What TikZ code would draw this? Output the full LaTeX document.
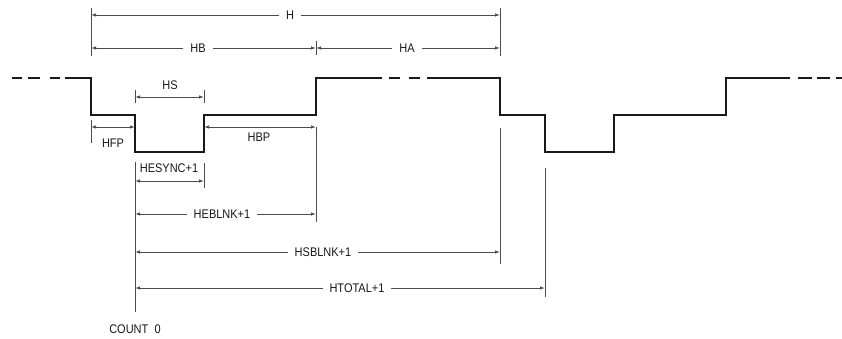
\documentclass[tikz,border=0pt]{standalone}
\usepackage{fontspec}
\setmainfont{Liberation Sans}[FakeStretch=0.88]
\usetikzlibrary{arrows.meta}
\begin{document}
\begin{tikzpicture}[x=1pt,y=-1pt,
  wave/.style={line width=1.7pt,black!90,line join=miter},
  ext/.style={line width=0.9pt,black!70},
  dim/.style={line width=0.8pt,black!70,{Latex[length=5pt,width=3.4pt]}-{Latex[length=5pt,width=3.4pt]}},
  lbl/.style={font=\fontsize{12.5}{13}\selectfont,text=black!90,fill=white,inner xsep=7pt,inner ysep=1pt},
  plain/.style={font=\fontsize{12.5}{13}\selectfont,text=black!90,inner sep=1pt}]
\useasboundingbox (0,0) rectangle (842,339);
% waveform
\draw[wave] (12,78)--(22,78) (28,78)--(40,78) (50,78)--(60,78);
\draw[wave] (65,78)--(91,78)--(91,115)--(135,115)--(135,152)--(204,152)--(204,115)--(316,115)--(316,78)--(382,78);
\draw[wave] (389,78)--(400,78) (409,78)--(420,78);
\draw[wave] (427,78)--(500,78)--(500,115)--(545,115)--(545,152)--(614,152)--(614,115)--(726,115)--(726,78)--(790,78);
\draw[wave] (798,78)--(812,78) (817,78)--(830,78) (836,78)--(842,78);
% coordinates
\coordinate (hL) at (91,15); \coordinate (hR) at (500,15);
\coordinate (hbL) at (91,48); \coordinate (hbR) at (316,48); \coordinate (haR) at (500,48);
\coordinate (hsL) at (135,97); \coordinate (hsR) at (204,97);
\coordinate (fpL) at (91,127); \coordinate (fpR) at (135,127);
\coordinate (bpL) at (204,127); \coordinate (bpR) at (316,127);
\coordinate (esL) at (135,181); \coordinate (esR) at (204,181);
\coordinate (ebL) at (135,214); \coordinate (ebR) at (316,214);
\coordinate (sbL) at (135,252); \coordinate (sbR) at (500,252);
\coordinate (htL) at (135,288); \coordinate (htR) at (545,288);
% extension lines
\draw[ext] (91,8)--(91,56);
\draw[ext] (500,8)--(500,56);
\draw[ext] (316,41)--(316,55);
\draw[ext] (135,90)--(135,103);
\draw[ext] (204,90)--(204,103);
\draw[ext] (91,120)--(91,143);
\draw[ext] (316,127)--(316,222);
\draw[ext] (135,162)--(135,312);
\draw[ext] (204,163)--(204,188);
\draw[ext] (500,128)--(500,264);
\draw[ext] (545,168)--(545,297);
% dimension lines
\draw[dim] (hL)--(hR);
\draw[dim] (hbL)--(hbR);
\draw[dim] (hbR)--(haR);
\draw[dim] (hsL)--(hsR);
\draw[dim] (fpL)--(fpR);
\draw[dim] (bpL)--(bpR);
\draw[dim] (esL)--(esR);
\draw[dim] (ebL)--(ebR);
\draw[dim] (sbL)--(sbR);
\draw[dim] (htL)--(htR);
% labels
\node[lbl] (H) at (290,15) {H};
\node[lbl] (HB) at (198,48) {HB};
\node[lbl] (HA) at (407,48) {HA};
\node[plain] (HS) at (170,85) {HS};
\node[plain] (HFP) at (113,143) {HFP};
\node[plain] (HBP) at (259,137) {HBP};
\node[plain] (HES) at (169,168) {HESYNC+1};
\node[lbl] (HEB) at (222,214) {HEBLNK+1};
\node[lbl] (HSB) at (323,252) {HSBLNK+1};
\node[lbl] (HTO) at (357,288) {HTOTAL+1};
\node[plain] (CNT) at (135,329) {COUNT\hspace{0.5em}0};
\end{tikzpicture}
\end{document}
